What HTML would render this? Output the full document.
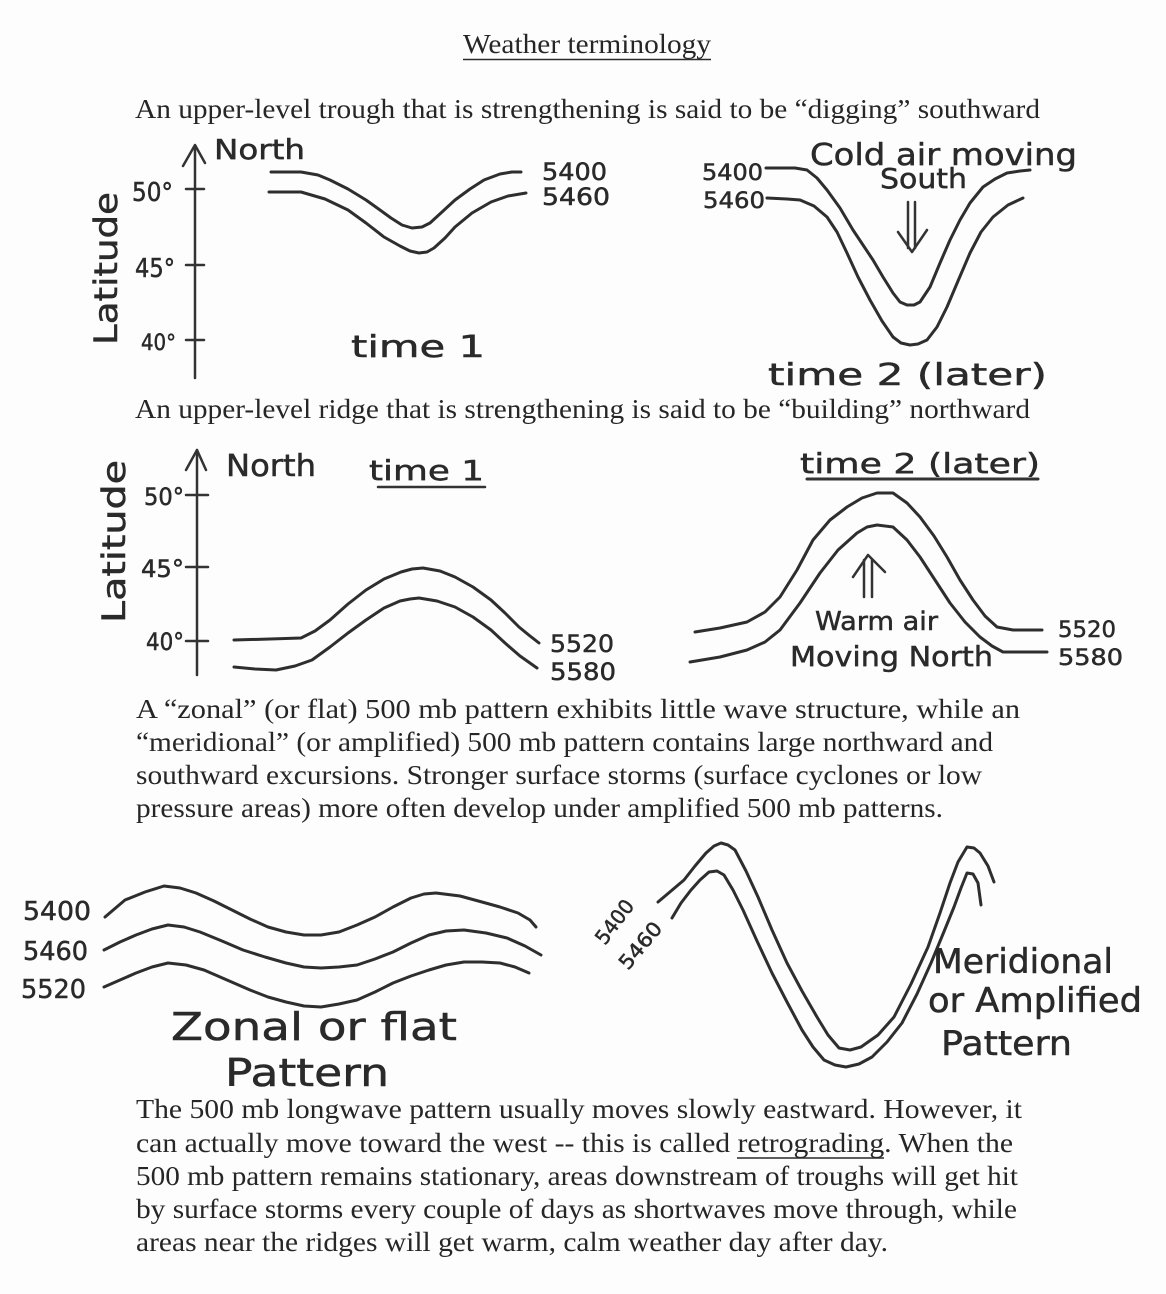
<!DOCTYPE html>
<html><head><meta charset="utf-8"><style>
html,body{margin:0;padding:0;background:#fdfdfd;}
svg{display:block;}
.t{font-family:"Liberation Serif",serif;font-size:27px;fill:#262626;}
.h{font-family:"DejaVu Sans","Liberation Sans",sans-serif;fill:#2a2a2a;stroke:#2a2a2a;stroke-width:0.5;}
.c{fill:none;stroke:#2e2e2e;stroke-width:3;stroke-linecap:round;stroke-linejoin:round;}
.a{fill:none;stroke:#333;stroke-width:2.5;stroke-linecap:round;stroke-linejoin:round;}
</style></head><body>
<svg width="1166" height="1294" viewBox="0 0 1166 1294" xmlns="http://www.w3.org/2000/svg">
<rect width="1166" height="1294" fill="#fdfdfd"/>

<!-- Title -->
<text class="t" x="463" y="53" textLength="248" lengthAdjust="spacingAndGlyphs">Weather terminology</text>
<line x1="463" y1="59.5" x2="711" y2="59.5" stroke="#2a2a2a" stroke-width="1.5"/>

<text class="t" x="135" y="118" textLength="905" lengthAdjust="spacingAndGlyphs">An upper-level trough that is strengthening is said to be “digging” southward</text>

<!-- Top-left graph -->
<line class="a" x1="195" y1="146" x2="195" y2="378"/>
<polyline class="a" points="183,166 195,145 205,163"/>
<line class="a" x1="186" y1="189" x2="204" y2="189"/>
<line class="a" x1="186" y1="265" x2="204" y2="265"/>
<line class="a" x1="186" y1="340" x2="204" y2="340"/>
<text class="h" x="214" y="159" font-size="28" textLength="91" lengthAdjust="spacingAndGlyphs">North</text>
<text class="h" x="132" y="201" font-size="26" textLength="41" lengthAdjust="spacingAndGlyphs">50°</text>
<text class="h" x="135" y="277" font-size="26" textLength="40" lengthAdjust="spacingAndGlyphs">45°</text>
<text class="h" x="141" y="350" font-size="22" textLength="35" lengthAdjust="spacingAndGlyphs">40°</text>
<text class="h" font-size="32" transform="translate(117,345) rotate(-90)" textLength="153" lengthAdjust="spacingAndGlyphs">Latitude</text>
<polyline class="c" points="271,172 301,172 318,175 330,180 348,189 366,200 380,210 391,218 402,225 412,228 422,227 430,223 442,212 455,200 470,189 484,180 500,174 512,172 521,172"/>
<polyline class="c" points="269,192 301,192 325,199 348,210 366,223 384,237 400,246 410,251 419,253 427,252 434,248 445,238 455,227 472,213 491,202 508,196 526,193"/>
<text class="h" x="542" y="180" font-size="24" textLength="65" lengthAdjust="spacingAndGlyphs">5400</text>
<text class="h" x="542" y="205" font-size="24" textLength="68" lengthAdjust="spacingAndGlyphs">5460</text>
<text class="h" x="351" y="357" font-size="30" textLength="134" lengthAdjust="spacingAndGlyphs">time 1</text>

<!-- Top-right graph -->
<text class="h" x="810" y="165" font-size="30" textLength="267" lengthAdjust="spacingAndGlyphs">Cold air moving</text>
<text class="h" x="880" y="188" font-size="28" textLength="87" lengthAdjust="spacingAndGlyphs">South</text>
<text class="h" x="702" y="180" font-size="22" textLength="61" lengthAdjust="spacingAndGlyphs">5400</text>
<text class="h" x="703" y="208" font-size="22" textLength="62" lengthAdjust="spacingAndGlyphs">5460</text>
<polyline class="c" points="766,168 777,168 795,168 807,170 817,178 827,190 840,208 853,230 863,245 873,260 883,277 893,293 900,302 907,305 914,305 920,302 930,287 940,263 950,240 960,220 970,203 983,187 995,179 1007,173 1020,171 1030,170"/>
<polyline class="c" points="767,198 787,199 800,200 814,206 827,217 837,232 847,253 858,277 870,300 882,321 893,337 901,343 910,345 918,344 927,340 937,327 947,307 958,281 970,253 981,232 993,217 1008,205 1023,198"/>
<line class="a" x1="908" y1="202" x2="908" y2="248"/>
<line class="a" x1="915" y1="202" x2="915" y2="248"/>
<polyline class="a" points="898,232 912,252 927,230"/>
<text class="h" x="768" y="385" font-size="30" textLength="279" lengthAdjust="spacingAndGlyphs">time 2  (later)</text>

<text class="t" x="135" y="418" textLength="895" lengthAdjust="spacingAndGlyphs">An upper-level ridge that is strengthening is said to be “building” northward</text>

<!-- Mid-left graph -->
<line class="a" x1="197" y1="450" x2="197" y2="675"/>
<polyline class="a" points="186,470 197,450 206,470"/>
<line class="a" x1="186" y1="495" x2="208" y2="495"/>
<line class="a" x1="186" y1="567" x2="208" y2="567"/>
<line class="a" x1="186" y1="641" x2="208" y2="641"/>
<text class="h" x="226" y="476" font-size="30" textLength="90" lengthAdjust="spacingAndGlyphs">North</text>
<text class="h" x="369" y="480" font-size="28" textLength="115" lengthAdjust="spacingAndGlyphs">time 1</text>
<line class="a" x1="378" y1="487" x2="485" y2="487"/>
<text class="h" x="144" y="505" font-size="24" textLength="40" lengthAdjust="spacingAndGlyphs">50°</text>
<text class="h" x="141" y="577" font-size="24" textLength="43" lengthAdjust="spacingAndGlyphs">45°</text>
<text class="h" x="146" y="650" font-size="24" textLength="38" lengthAdjust="spacingAndGlyphs">40°</text>
<text class="h" font-size="32" transform="translate(125,623) rotate(-90)" textLength="163" lengthAdjust="spacingAndGlyphs">Latitude</text>
<polyline class="c" points="234,640 270,639 301,638 315,631 330,620 348,604 366,590 384,579 401,572 412,569 423,568 440,571 455,577 473,587 491,600 505,613 519,627 530,636 539,643"/>
<polyline class="c" points="234,667 255,669 276,670 295,666 312,660 330,647 348,633 366,620 384,608 400,601 410,599 419,598 437,601 455,607 473,617 491,630 505,643 520,656 537,668"/>
<text class="h" x="550" y="652" font-size="24" textLength="64" lengthAdjust="spacingAndGlyphs">5520</text>
<text class="h" x="550" y="680" font-size="24" textLength="66" lengthAdjust="spacingAndGlyphs">5580</text>

<!-- Mid-right graph -->
<text class="h" x="800" y="473" font-size="28" textLength="240" lengthAdjust="spacingAndGlyphs">time 2 (later)</text>
<line x1="807" y1="479" x2="1038" y2="479" stroke="#333" stroke-width="3" stroke-linecap="round"/>
<polyline class="c" points="695,632 720,628 747,622 765,612 780,597 797,570 813,540 830,520 847,507 862,498 877,493 893,493 907,503 920,517 934,536 947,557 960,580 973,600 985,616 997,627 1013,630 1042,630"/>
<polyline class="c" points="690,662 720,657 747,650 765,642 780,630 800,603 820,573 838,550 857,533 867,527 877,525 893,527 907,540 920,557 935,580 950,603 965,622 980,637 992,646 1003,652 1025,652 1047,652"/>
<line class="a" x1="864" y1="560" x2="864" y2="597"/>
<line class="a" x1="872" y1="560" x2="872" y2="597"/>
<polyline class="a" points="853,577 868,555 885,572"/>
<text class="h" x="815" y="630" font-size="26" textLength="123" lengthAdjust="spacingAndGlyphs">Warm air</text>
<text class="h" x="790" y="666" font-size="28" textLength="203" lengthAdjust="spacingAndGlyphs">Moving North</text>
<text class="h" x="1058" y="637" font-size="22" textLength="58" lengthAdjust="spacingAndGlyphs">5520</text>
<text class="h" x="1058" y="665" font-size="22" textLength="65" lengthAdjust="spacingAndGlyphs">5580</text>

<!-- Middle paragraph -->
<text class="t" x="136" y="718" textLength="884" lengthAdjust="spacingAndGlyphs">A “zonal” (or flat) 500 mb pattern exhibits little wave structure, while an</text>
<text class="t" x="136" y="751" textLength="857" lengthAdjust="spacingAndGlyphs">“meridional” (or amplified) 500 mb pattern contains large northward and</text>
<text class="t" x="136" y="784" textLength="846" lengthAdjust="spacingAndGlyphs">southward excursions.  Stronger surface storms (surface cyclones or low</text>
<text class="t" x="136" y="817" textLength="807" lengthAdjust="spacingAndGlyphs">pressure areas) more often develop under amplified 500 mb patterns.</text>

<!-- Bottom-left zonal -->
<text class="h" x="23" y="920" font-size="26" textLength="68" lengthAdjust="spacingAndGlyphs">5400</text>
<text class="h" x="23" y="960" font-size="26" textLength="65" lengthAdjust="spacingAndGlyphs">5460</text>
<text class="h" x="21" y="998" font-size="26" textLength="65" lengthAdjust="spacingAndGlyphs">5520</text>
<polyline class="c" points="105,917 125,900 145,892 164,886 180,888 196,893 214,901 232,910 250,919 268,927 286,932 304,935 321,935 339,932 357,925 375,917 393,907 411,898 424,894 436,893 460,896 482,902 500,907 518,913 530,920 536,927"/>
<polyline class="c" points="104,950 120,942 136,935 152,929 168,925 184,927 200,932 222,941 243,950 265,957 286,963 304,967 321,968 339,967 357,965 375,959 393,952 411,943 429,935 446,931 464,930 486,933 507,938 525,946 541,955"/>
<polyline class="c" points="104,987 120,980 136,973 152,967 168,963 186,965 204,970 227,980 250,990 268,997 286,1002 304,1006 321,1007 339,1004 357,1000 375,992 393,983 411,976 429,970 446,965 464,962 482,962 500,963 515,967 529,973"/>
<text class="h" x="171" y="1040" font-size="38" textLength="286" lengthAdjust="spacingAndGlyphs">Zonal  or  flat</text>
<text class="h" x="225" y="1086" font-size="38" textLength="164" lengthAdjust="spacingAndGlyphs">Pattern</text>

<!-- Bottom-right meridional -->
<polyline class="c" points="658,902 671,891 684,880 695,866 706,853 714,846 721,843 728,845 735,850 746,871 758,897 772,930 787,963 802,991 817,1017 828,1035 839,1048 850,1050 861,1047 878,1035 894,1017 911,984 928,947 940,913 950,883 958,862 967,847 974,848 980,853 988,866 994,882"/>
<polyline class="c" points="672,918 681,903 691,890 700,880 709,872 717,871 724,875 733,890 743,910 757,941 772,973 787,1002 802,1030 813,1047 824,1060 835,1065 846,1067 859,1064 872,1057 887,1042 902,1023 917,994 931,963 943,934 954,907 961,888 967,873 973,874 978,883 981,905"/>
<text class="h" font-size="20" transform="translate(605,946) rotate(-53)" textLength="50" lengthAdjust="spacingAndGlyphs">5400</text>
<text class="h" font-size="20" transform="translate(628,971) rotate(-50)" textLength="55" lengthAdjust="spacingAndGlyphs">5460</text>
<text class="h" x="933" y="973" font-size="34" textLength="180" lengthAdjust="spacingAndGlyphs">Meridional</text>
<text class="h" x="928" y="1012" font-size="34" textLength="214" lengthAdjust="spacingAndGlyphs">or Amplified</text>
<text class="h" x="941" y="1055" font-size="34" textLength="131" lengthAdjust="spacingAndGlyphs">Pattern</text>

<!-- Bottom paragraph -->
<text class="t" x="136" y="1118" textLength="886" lengthAdjust="spacingAndGlyphs">The 500 mb longwave pattern usually moves slowly eastward.  However, it</text>
<text class="t" x="136" y="1152" textLength="877" lengthAdjust="spacingAndGlyphs">can actually move toward the west -- this is called retrograding.  When the</text>
<line x1="737" y1="1158" x2="884" y2="1158" stroke="#2a2a2a" stroke-width="1.5"/>
<text class="t" x="136" y="1185" textLength="882" lengthAdjust="spacingAndGlyphs">500 mb pattern remains stationary, areas downstream of troughs will get hit</text>
<text class="t" x="136" y="1218" textLength="881" lengthAdjust="spacingAndGlyphs">by surface storms every couple of days as shortwaves move through, while</text>
<text class="t" x="136" y="1251" textLength="752" lengthAdjust="spacingAndGlyphs">areas near the ridges will get warm, calm weather day after day.</text>
</svg>
</body></html>
